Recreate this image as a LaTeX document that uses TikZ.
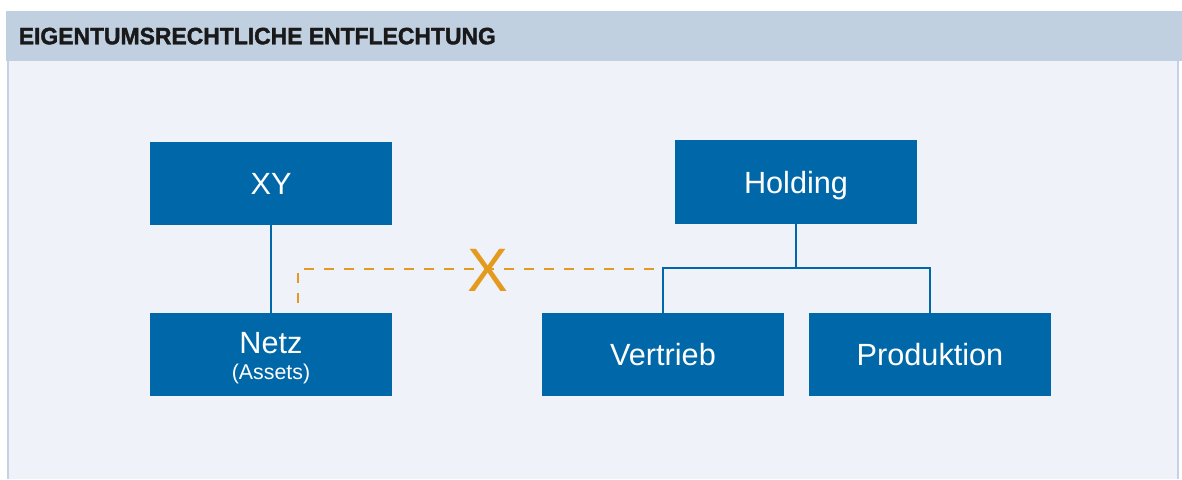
\documentclass[tikz,border=0pt]{standalone}
\usepackage{fontspec}
\setmainfont{Liberation Sans}
\newfontfamily\headfont[FakeStretch=0.965, FakeBold=1.6]{Liberation Sans Bold}
\usepackage{tikz}
\usetikzlibrary{positioning,calc}

\definecolor{boxblue}{HTML}{0068A9}
\definecolor{headband}{HTML}{C1D0E1}
\definecolor{panel}{HTML}{EFF3F9}
\definecolor{panelrule}{HTML}{C6D1E1}
\definecolor{cutorange}{HTML}{E39A1E}

\begin{document}
\begin{tikzpicture}[x=0.75pt, y=-0.75pt,
    unit/.style={fill=boxblue, text=white, minimum width=181.5pt, minimum height=62.5pt,
                 inner sep=0pt, align=center, font=\fontsize{23}{26}\selectfont},
    oneline/.style={text height=16.5pt, text depth=0pt},
    link/.style={draw=boxblue, line width=1.5pt},
    cut/.style={draw=cutorange, line width=1.6pt, dash pattern=on 7.5pt off 7.5pt}]

\useasboundingbox (0,0) rectangle (1182,479);

% panel and header band
\fill[panel] (8,60) rectangle (1178,479);
\draw[panelrule, line width=1.5pt] (8,60) -- (8,479);
\draw[panelrule, line width=1.5pt] (1178,60) -- (1178,479);
\fill[headband] (6,11) rectangle (1182,61);
\node[anchor=west, inner sep=0pt, font=\headfont\fontsize{17.8}{20}\selectfont, text=black!90,
      text height=12.75pt, text depth=0pt]
    (title) at (18.5,35.8) {EIGENTUMSRECHTLICHE ENTFLECHTUNG};

% companies
\node[unit, oneline] (xy) at (271,183.5) {XY};
\node[unit, text height=40pt, text depth=2.2pt] (netz) at (271,354.5)
    {Netz\\[-6pt]{\fontsize{16}{18}\selectfont(Assets)}};
\node[unit, oneline] (holding) at (796,182) {Holding};
\node[unit, oneline] (vertrieb) at (663,354.5) {Vertrieb};
\node[unit, oneline] (produktion) at (930,354.5) {Produktion};

% ownership lines
\draw[link] (xy) -- (netz);
\coordinate (fork) at (796,268);
\draw[link] (holding) -- (fork);
\draw[link] (vertrieb.north) |- (fork) -| (produktion.north);

% cut connection
\coordinate (cutstart) at (298,303);
\coordinate (cutend) at (663,269);
\draw[cut] (cutstart) |- (cutend);
\node[text=cutorange, inner sep=0pt, font=\fontsize{46}{46}\selectfont] (cross) at (488,270) {X};
\end{tikzpicture}
\end{document}
